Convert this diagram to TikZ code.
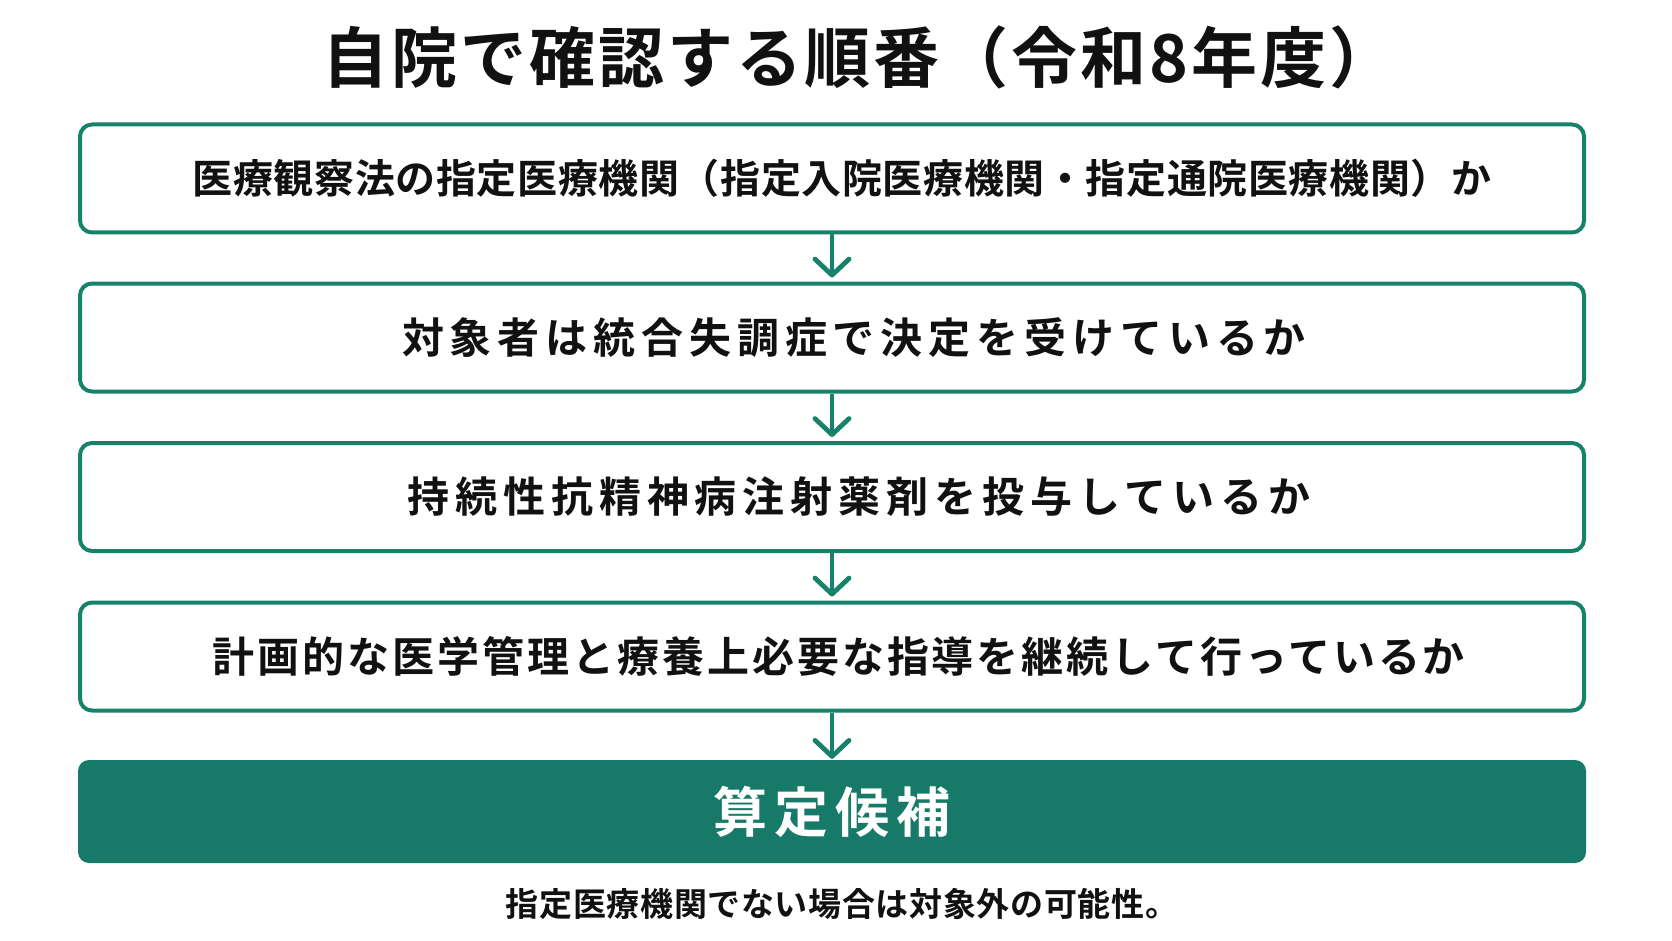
\documentclass[tikz,border=0pt]{standalone}
\usepackage{fontspec}
\usetikzlibrary{arrows.meta}
\newfontfamily\jpfont{Noto Sans CJK JP}[BoldFont={Noto Sans CJK JP Bold}]
\newfontfamily\jpfontwide{Noto Sans CJK JP}[BoldFont={Noto Sans CJK JP Bold},LetterSpace=14]
\newfontfamily\jpfontmid{Noto Sans CJK JP}[BoldFont={Noto Sans CJK JP Bold},LetterSpace=7]
\newfontfamily\jpfonttight{Noto Sans CJK JP}[BoldFont={Noto Sans CJK JP Bold},LetterSpace=1.5]
\newfontfamily\jpfontnote{Noto Sans CJK JP}[BoldFont={Noto Sans CJK JP Bold},LetterSpace=2]
\newfontfamily\jpfonttitle{Noto Sans CJK JP}[BoldFont={Noto Sans CJK JP Bold},LetterSpace=4.5]
\newfontfamily\jpfontres{Noto Sans CJK JP}[BoldFont={Noto Sans CJK JP Bold},LetterSpace=13]
\definecolor{teal}{RGB}{22,130,106}
\definecolor{tealdark}{RGB}{23,122,104}
\definecolor{ink}{RGB}{17,17,17}
\begin{document}
\begin{tikzpicture}[x=1pt, y=-1pt,
        checkbox/.style={draw=teal, line width=4pt, rounded corners=12pt, fill=white,
            minimum width=1504pt, minimum height=108pt, inner sep=0pt, text=ink,
            font=\fontsize{42}{48}\selectfont\bfseries},
        resultbox/.style={fill=tealdark, rounded corners=11pt, minimum width=1508pt,
            minimum height=103pt, inner sep=0pt, text=white},
        flowarrow/.style={draw=teal, line width=4.8pt,
            -{Straight Barb[length=16pt, width=34pt, line cap=round, line join=round]},
            shorten >=4pt}]
        \useasboundingbox (0,0) rectangle (1672,941);
        \fill[white] (0,0) rectangle (1672,941);

        \node[text=ink, font=\jpfonttitle\fontsize{66}{72}\selectfont\bfseries] (title) at (859,57) {自院で確認する順番（令和8年度）};

        \node[checkbox, font=\fontsize{40}{46}\selectfont\bfseries] (q1) at (832,178.5) {\jpfonttight\bfseries\hspace*{20pt}医療観察法の指定医療機関（指定入院医療機関・指定通院医療機関）か};
        \node[checkbox] (q2) at (832,337.5) {\jpfontwide\bfseries\hspace*{44pt}対象者は統合失調症で決定を受けているか};
        \node[checkbox] (q3) at (832,497) {\jpfontwide\bfseries\hspace*{54pt}持続性抗精神病注射薬剤を投与しているか};
        \node[checkbox] (q4) at (832,656.5) {\jpfontmid\bfseries\hspace*{14pt}計画的な医学管理と療養上必要な指導を継続して行っているか};
        \node[resultbox, font=\jpfontres\fontsize{54}{60}\selectfont\bfseries] (res) at (832,811.5) {算定候補};

        \draw[flowarrow] (q1.south) -- (q2.north);
        \draw[flowarrow] (q2.south) -- (q3.north);
        \draw[flowarrow] (q3.south) -- (q4.north);
        \draw[flowarrow, shorten >=1pt] (q4.south) -- (res.north);

        \node[text=ink, font=\jpfontnote\fontsize{33}{37}\selectfont\bfseries] (note) at (842,904) {指定医療機関でない場合は対象外の可能性。};
    \end{tikzpicture}
\end{document}
